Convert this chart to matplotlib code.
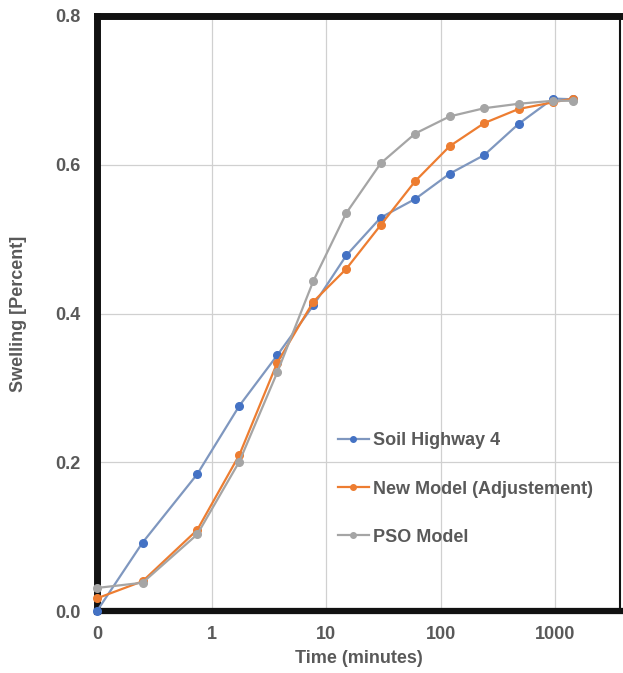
import matplotlib
matplotlib.use("Agg")
import matplotlib.pyplot as plt
from matplotlib.lines import Line2D
from matplotlib.ticker import FixedLocator, FixedFormatter

# Elapsed time in minutes (first reading plotted at the axis origin, 0.1)
time_min = [0.1, 0.25, 0.75, 1.75, 3.75, 7.75, 15, 30, 60, 120, 240, 480, 960, 1440]

soil_highway_4 = [0.000, 0.092, 0.184, 0.276, 0.344, 0.411, 0.478, 0.529, 0.554,
                  0.588, 0.613, 0.655, 0.689, 0.688]
new_model = [0.017, 0.040, 0.109, 0.210, 0.334, 0.416, 0.460, 0.519, 0.578,
             0.625, 0.656, 0.675, 0.684, 0.689]
pso_model = [0.031, 0.038, 0.103, 0.201, 0.321, 0.444, 0.535, 0.602, 0.642,
             0.665, 0.676, 0.682, 0.686, 0.686]

series_names = ["Soil Highway 4", "New Model (Adjustement)", "PSO Model"]

x_ticks = [0.1, 1, 10, 100, 1000]
x_tick_labels = ["0", "1", "10", "100", "1000"]
y_ticks = [0.0, 0.2, 0.4, 0.6, 0.8]
y_tick_labels = ["0.0", "0.2", "0.4", "0.6", "0.8"]

text_color = "#595959"
font = ["Liberation Sans", "DejaVu Sans"]
plt.rcParams["font.family"] = font
plt.rcParams["font.weight"] = "bold"

fig = plt.figure(figsize=(6.23, 6.73), dpi=100)
ax = fig.add_axes([97 / 623, 62 / 673, 523 / 623, 595 / 673])

styles = [
    dict(color="#7f97bf", mfc="#4472c4", mec="#4472c4"),
    dict(color="#ed7d31", mfc="#ed7d31", mec="#ed7d31"),
    dict(color="#a5a5a5", mfc="#a5a5a5", mec="#a5a5a5"),
]
for vals, st in zip([soil_highway_4, new_model, pso_model], styles):
    ax.plot(time_min, vals, marker="o", markersize=5.5, lw=1.6,
            clip_on=False, zorder=5, **st)

ax.set_xscale("log")
ax.set_xlim(0.1, 3680)
ax.set_ylim(0, 0.8)
ax.xaxis.set_major_locator(FixedLocator(x_ticks))
ax.xaxis.set_major_formatter(FixedFormatter(x_tick_labels))
ax.xaxis.set_minor_locator(FixedLocator([]))
ax.yaxis.set_major_locator(FixedLocator(y_ticks))
ax.yaxis.set_major_formatter(FixedFormatter(y_tick_labels))

ax.grid(True, color="#d0d0d0", lw=0.9, zorder=0)
ax.set_axisbelow(True)
ax.tick_params(axis="both", length=0, labelsize=13, labelcolor=text_color)
ax.tick_params(axis="x", pad=11)
ax.tick_params(axis="y", pad=12)
for lab in ax.get_xticklabels() + ax.get_yticklabels():
    lab.set_fontweight("bold")

ax.set_xlabel("Time (minutes)", fontsize=13, fontweight="bold",
              color=text_color, labelpad=5)
ax.set_ylabel("Swelling [Percent]", fontsize=13, fontweight="bold",
              color=text_color, labelpad=20)

for side, lw in [("left", 5.0), ("top", 5.0), ("bottom", 4.5), ("right", 1.5)]:
    ax.spines[side].set_linewidth(lw)
    ax.spines[side].set_color("#111111")
    ax.spines[side].set_zorder(4)

handles = [Line2D([], [], color=st["color"], marker="o", markersize=4,
                  mfc=st["mfc"], mec=st["mec"], lw=1.6) for st in styles]
ax.legend(handles, series_names, loc="center left",
          bbox_to_anchor=(0.461, 0.205), frameon=False, fontsize=13,
          labelcolor=text_color, handlelength=1.7, handletextpad=0.25,
          labelspacing=1.72, borderpad=0, borderaxespad=0,
          prop={"weight": "bold", "size": 13, "family": font})

fig.savefig("out.png", dpi=100)
